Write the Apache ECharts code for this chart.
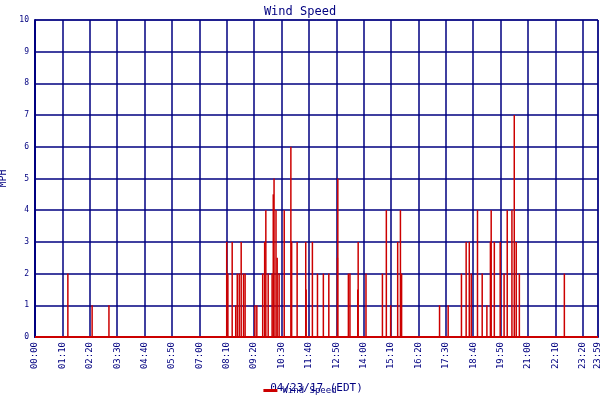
<!DOCTYPE html>
<html><head><meta charset="utf-8">
<script src="https://cdn.jsdelivr.net/npm/echarts@6/dist/echarts.min.js"></script>
<style>html,body{margin:0;padding:0;background:#fff}#c{width:600px;height:400px}</style>
</head><body><div id="c"></div>
<script>
const minutes = [84,146,189,490,493,504,513,517,522,527,533,537,562,567,582,587,590,596,606,609,611,616,619,624,637,654,656,670,692,693,709,722,737,751,773,774,801,805,825,826,846,888,898,909,927,934,937,1034,1056,1090,1102,1110,1115,1131,1143,1155,1164,1166,1174,1189,1199,1207,1219,1225,1230,1238,1353];
const speeds  = [2,1,1,3,2,3,1,2,2,3,2,2,1,1,2,3,4,2,2,4.5,5,4,2.5,2,4,6,3,3,3,1.5,3,2,2,2,2.5,5,2,2,1.5,3,2,2,4,1,3,4,2,1,1,2,3,3,2,4,2,1,3,4,3,3,2,4,4,7,3,2,2];
const yTicks = [0,1,2,3,4,5,6,7,8,9,10];
const navy = '#000080', red = '#cc0000', font = 'DejaVu Sans Mono';
const data = minutes.map((m,i)=>[m,speeds[i]]);
function fmt(v){const h=Math.floor(v/60),m=Math.round(v%60);return String(h).padStart(2,'0')+':'+String(m).padStart(2,'0');}
const chart = echarts.init(document.getElementById('c'));
chart.setOption({
  animation:false,
  title:{text:'Wind Speed',left:'center',top:1,textStyle:{color:navy,fontFamily:font,fontSize:12,fontWeight:'normal'}},
  legend:{bottom:0,left:'center',data:['Wind Speed'],icon:'rect',itemWidth:14,itemHeight:3,textStyle:{color:navy,fontFamily:font,fontSize:9}},
  grid:{left:35,right:2,top:20,bottom:63,show:true,borderColor:navy,borderWidth:1,containLabel:false,outerBoundsMode:'none'},
  xAxis:{type:'value',min:0,max:1439,interval:70,
    axisLine:{lineStyle:{color:navy,width:2}},axisTick:{show:false},
    splitLine:{lineStyle:{color:navy,width:1.5}},
    axisLabel:{rotate:90,color:navy,fontFamily:font,fontSize:9,showMaxLabel:true,hideOverlap:false,margin:5,formatter:v=>fmt(v)},
    name:'04/23/17 (EDT)',nameLocation:'middle',nameGap:46,nameTextStyle:{color:navy,fontFamily:font,fontSize:11}},
  yAxis:{type:'value',min:yTicks[0],max:yTicks[yTicks.length-1],interval:1,
    axisLine:{show:true,lineStyle:{color:navy,width:2}},axisTick:{show:false},
    splitLine:{lineStyle:{color:navy,width:1.5}},
    axisLabel:{color:navy,fontFamily:font,fontSize:8,margin:6},
    name:'MPH',nameLocation:'middle',nameGap:24,nameTextStyle:{color:navy,fontFamily:font,fontSize:10}},
  series:[{name:'Wind Speed',type:'bar',data:data,barWidth:1.5,itemStyle:{color:red},barGap:'-100%'},
          {name:'base',type:'line',data:[[0,0],[1439,0]],symbol:'none',lineStyle:{color:red,width:2},silent:true}]
});
</script></body></html>
